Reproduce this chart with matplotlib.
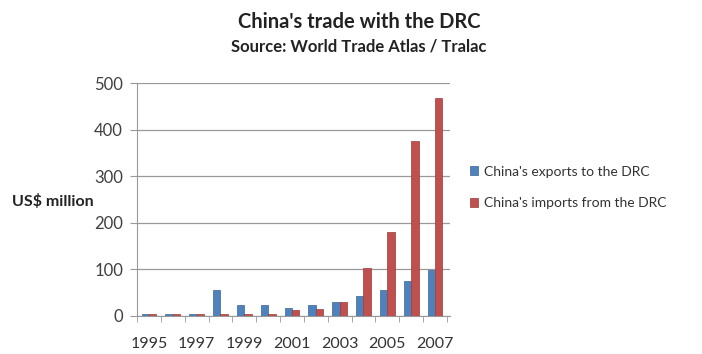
import matplotlib
matplotlib.use("Agg")
import matplotlib.pyplot as plt
import numpy as np

years = [1995, 1996, 1997, 1998, 1999, 2000, 2001, 2002, 2003, 2004, 2005, 2006, 2007]
exports = [4, 4, 4, 55, 23, 23, 17, 24, 29, 42, 55, 75, 98]
imports = [4, 4, 4, 4, 5, 5, 13, 16, 31, 104, 180, 375, 467]
yticks = [0, 100, 200, 300, 400, 500]
series_names = ["China's exports to the DRC", "China's imports from the DRC"]

plt.rcParams['font.family'] = ['Lato', 'DejaVu Sans']

fig = plt.figure(figsize=(7.02, 3.54), dpi=100)
ax = fig.add_axes([137/702, 38/354, (450-137)/702, (316-83)/354])

x = np.arange(len(years))
w = 0.31
blue = '#4F81BD'
red = '#C0504D'
ax.bar(x - w/2, exports, w, color=blue, edgecolor='#3A6496', linewidth=0.5, label=series_names[0], zorder=3)
ax.bar(x + w/2, imports, w, color=red, edgecolor='#963C3A', linewidth=0.5, label=series_names[1], zorder=3)

ax.set_xlim(-0.5, 12.63)
ax.set_ylim(0, 500)
ax.set_yticks(yticks)
ax.set_yticklabels([str(v) for v in yticks], fontsize=12, color='#404040')
ax.yaxis.grid(True, color='#999999', linewidth=0.9, zorder=0)
ax.set_xticks(x)
ax.set_xticklabels([str(y) if y % 2 == 1 else '' for y in years], fontsize=11.5, color='#333333')
ax.set_xticks(np.arange(-0.5, 12.6, 1.0), minor=True)
ax.tick_params(axis='x', which='major', length=0, pad=15)
ax.tick_params(axis='x', which='minor', length=4, color='#999999')
ax.tick_params(axis='y', length=5, color='#999999', pad=5)
for s in ['top', 'right']:
    ax.spines[s].set_visible(False)
ax.spines['left'].set_color('#999999')
ax.spines['bottom'].set_color('#999999')

fig.text(359/702, 1 - 22/354, "China's trade with the DRC", ha='center', va='center', fontsize=14.5, fontweight='bold', color='#222222')
fig.text(359/702, 1 - 46/354, "Source: World Trade Atlas / Tralac", ha='center', va='center', fontsize=12, fontweight='bold', color='#222222')
fig.text(12/702, 1 - 201/354, "US$ million", ha='left', va='center', fontsize=11.5, fontweight='bold', color='#222222')

leg = fig.legend(loc='center left', bbox_to_anchor=(470/702, 1 - 187.5/354), frameon=False, fontsize=10,
                 handlelength=0.6, handleheight=0.6, handletextpad=0.4, labelspacing=1.4,
                 borderpad=0, borderaxespad=0)
for t in leg.get_texts():
    t.set_color('#333333')

fig.savefig('out.png', dpi=100, facecolor='white')
